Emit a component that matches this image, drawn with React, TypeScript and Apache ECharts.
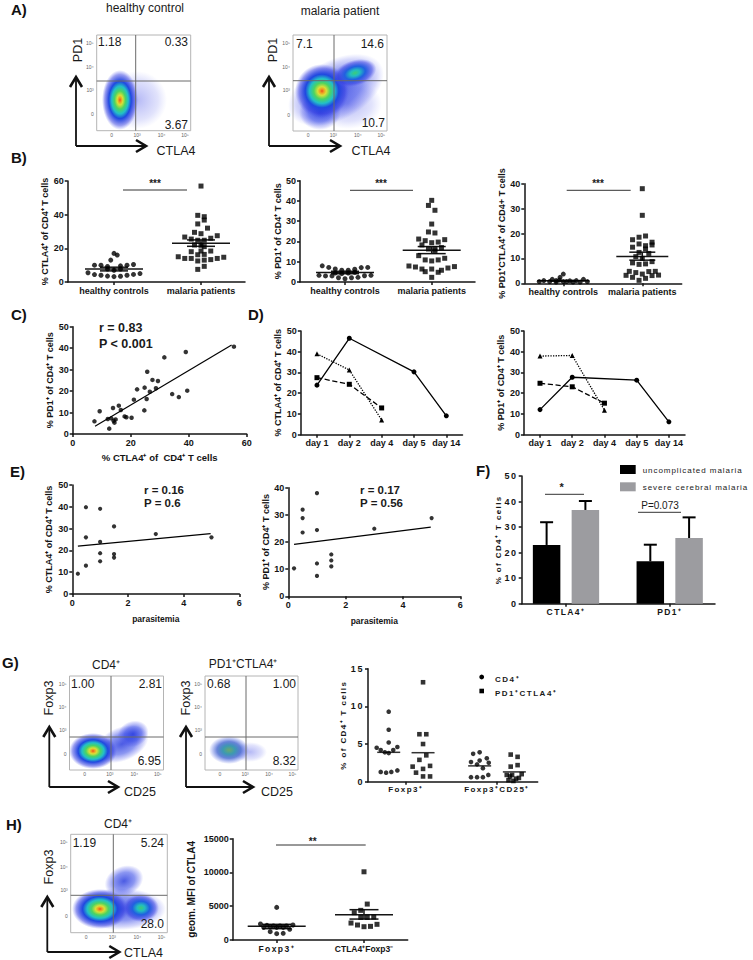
import React, { useEffect, useRef } from "react";
import * as echarts from "echarts";

const FONT = '"Liberation Sans", Arial, sans-serif';
const INK = "#141414";
const SLOT_PX = 6.5;

// ---------- data ----------
const groupLabels = ["healthy controls", "malaria patients"];

const b1HealthySlots = [0, 0.5, -0.5, -3, -2, -1, 1, 2, 3, -4, -3, -2, -1, 0, 1, 2, 3, 4, -1, 0, 1];
const b1HealthyVals = [17, 16, 13, 10, 10, 9.2, 9.6, 10, 10.4, 5.5, 4.4, 4, 3.5, 3.2, 3.4, 4, 4.5, 5, 7.7, 7, 7.7];
const b1MalariaSlots = [0, -0.5, 0.5, 0.5, -0.5, 1, -1, 0, -2.5, -1.5, -0.5, 0.5, 1.5, 2.5, -1, 0, 0.5, -1.5, 0, 1.5, -0.5, 0.5, -3.5, -2.5, -1.5, -0.5, 0.5, 1.5, 2.5, 3.5, 0.5, -0.5];
const b1MalariaVals = [57, 39.6, 38.8, 36.8, 34.5, 32, 29.5, 28.7, 26.7, 25.5, 24.8, 24.8, 26, 27.5, 22, 21.8, 21, 18, 18.4, 18.4, 16.2, 16.4, 15, 14, 14, 12.5, 13, 13.3, 14, 14.7, 9.3, 7.5];
const b1Summary = [[7.7, 6.6, 8.8], [23, 21.2, 25]];

const b2HealthySlots = [-3.5, -2.5, -1.5, -0.5, 0.5, 1.5, 2.5, 3.5, -4, -3, -2, -1, 0, 1, 2, 3, 4, -1.5, -0.5, 0.5, 1.5];
const b2HealthyVals = [8, 7.2, 6.4, 5.8, 5.8, 6.3, 7.1, 7.2, 3.3, 3, 3, 2.1, 1.6, 2.1, 2.3, 3.1, 3.3, 4.4, 4.1, 4.4, 4.8];
const b2MalariaSlots = [0, -0.5, 0.5, 0, -0.5, 0.5, -2, -1, 0, 1, 2, -1.5, -0.5, 0.5, 0.5, 1.5, -2, -1, 0, 1, 2, -3.5, -2.5, -1.5, -1, 0, 1, 1.5, 2.5, 3.5, 0];
const b2MalariaVals = [40.3, 37.8, 35.4, 28.6, 24.7, 24.2, 21.2, 20.4, 19.4, 19.7, 20.9, 18.3, 16.3, 16.3, 15.3, 17, 13, 10.9, 10.4, 10.9, 11.7, 7.9, 7.4, 6.4, 5.1, 6.4, 4.8, 5.8, 6.9, 7.6, 2.3];
const b2Summary = [[4.7, 4.1, 5.3], [15.7, 14, 17.5]];

const b3HealthySlots = [0, -3, -1.7, -0.6, 1, 2, 3.1, -3.7, -2.1, -1.1, 0, -0.5, 0.5, 1.5, 2.6, 3.7, -1.1];
const b3HealthyVals = [3.7, 1.1, 1.6, 1.3, 1, 1.1, 1.6, 0.7, 0.7, 0.5, 0.7, 2.4, 0.7, 0.5, 0.5, 0.7, 1.1];
const b3MalariaSlots = [0, 0, 0.5, -0.5, -1.5, 1.5, 1.5, -0.5, 0.5, -1.5, 0.5, -0.5, 1, -1, 0, -1.5, -0.5, 0.5, 1.5, -2, -1, 1, 2, -2.5, -1.5, 0, 0.5, 1.5, 2.5, -0.5];
const b3MalariaVals = [38, 27.3, 19, 18.5, 17.5, 16.5, 15.4, 15.8, 15.1, 14.5, 13.8, 12.4, 12, 10.7, 10, 8.2, 7.6, 7.8, 8.7, 4.8, 4.3, 4.7, 4.8, 3.2, 2.4, 3.7, 2, 3.1, 3.3, 1.2];
const b3Summary = [[1, 0.9, 1.1], [10.8, 9.3, 12.5]];

const cCtla4 = [55.6, 39, 31.6, 25.7, 27.5, 29.4, 22.2, 24.8, 26.6, 28.7, 34.3, 36.6, 39.5, 21.1, 25.5, 24.7, 9.3, 13.9, 15.9, 16.6, 17.9, 18.5, 20.3, 7.5, 12.1, 13.3, 14.8, 14.1, 14.4, 12.6];
const cPd1 = [40.7, 38.2, 35.7, 29, 25.2, 24.7, 20.8, 21.6, 19.7, 21.3, 18.6, 17.2, 20.2, 16, 16.3, 11, 10.6, 12.1, 13.2, 11.2, 8.2, 7.8, 7.6, 5.9, 7, 7.3, 6.8, 6.2, 5.3, 2.5];
const cFit = [[7.7, 3.6], [54.8, 41.5]];

const dayLabels = ["day 1", "day 2", "day 4", "day 5", "day 14"];
const d1Circle = [23.9, 46.5, null, 30.3, 9.1];
const d1Triangle = [39, 31.2, 7.1, null, null];
const d1Square = [27.5, 24.3, 12.9, null, null];
const d2Circle = [12.1, 27.7, null, 26.3, 6.2];
const d2Triangle = [37.9, 38.2, 11.8, null, null];
const d2Square = [24.8, 23.1, 15.2, null, null];

const e1Para = [0.49, 1, 1.5, 0.49, 3, 5, 1, 1, 1.5, 1.5, 1, 0.49, 0.2];
const e1Ctla4 = [39.8, 39.1, 31, 26, 27.5, 26, 23.9, 18.7, 18.3, 16.7, 15, 13, 9.3];
const e1Fit = [[0.2, 22], [4.97, 27.7]];
const e2Para = [1, 0.5, 0.5, 0.5, 1, 3, 5, 1.5, 1.5, 1.5, 1, 1, 0.2];
const e2Pd1 = [38, 31.9, 28.8, 23.5, 24.4, 24.9, 28.8, 15.4, 13.2, 11, 12.1, 7.5, 10.3];
const e2Fit = [[0.2, 19.1], [4.97, 25.5]];

const fLabels = ["CTLA4⁺", "PD1⁺"];
const fUncomplicated = [23, 16.6];
const fUncomplicatedErr = [31.9, 23.1];
const fSevere = [36.7, 25.7];
const fSevereErr = [40.2, 33.8];

const gLabels = ["Foxp3⁺", "Foxp3⁺CD25⁺"];
const gCd4aSlots = [0, 0, 0, 1.33, 0.7, 0, -0.6, -1.23, -1.85, 1.33, 0.4, -0.4, -1.23];
const gCd4aVals = [9.3, 6.9, 5.2, 4.6, 4.2, 3.8, 3.9, 4.2, 4.5, 1.5, 1.3, 1.2, 1.3];
const gDpaSlots = [0, -0.56, 0.5, 0, 0.5, -0.56, -1.6, 1.08, 0, -1.08, 0, 1.08];
const gDpaVals = [13.2, 6.3, 6.3, 5, 3.5, 2.9, 2, 2.1, 1.7, 1.2, 0.7, 0.7];
const gCd4bSlots = [0, -1, 1.1, 0, -1.33, -0.4, 1.4, 0.5, -1.33, -0.4, 0.5, 1.33];
const gCd4bVals = [3.9, 3.7, 3.1, 2.8, 2.6, 2.3, 2.5, 1.8, 0.6, 0.6, 0.6, 0.9];
const gDpbSlots = [-0.56, 0.5, -0.56, 0.5, -0.35, -1.17, 1.13, 0.7, -0.9, -0.15, 0.26, -0.67];
const gDpbVals = [3.6, 3.3, 2, 2.2, 0.9, 0.9, 1, 0.5, 0.2, 0.1, 0.4, 0.7];
const gMeans = [3.9, 3.85, 2.1, 1.3];

const hLabels = ["Foxp3⁺", "CTLA4⁺Foxp3⁻"];
const hFoxSlots = [0, -2.5, -1.5, -0.5, 0.5, 1.5, 2.5, -2, -1, 0, 1, 2, -1, 0, 1];
const hFoxVals = [4830, 2370, 2170, 2070, 2070, 2070, 2220, 1870, 1950, 1870, 1870, 1580, 1230, 940, 990];
const hCtlaSlots = [0, 0.5, -0.5, -1.5, -0.5, 0.5, 1.5, -2, -1, 0, 1, 2];
const hCtlaVals = [10100, 5320, 4390, 4040, 3350, 3350, 3400, 2510, 2220, 1970, 2020, 2320];
const hSummary = [[2020, 1680, 2320], [3750, 3100, 4490]];

const SPACED_AXIS = new Set<string>(["CTLA4⁺", "PD1⁺", "Foxp3⁺", "Foxp3⁺CD25⁺", "% of CD4⁺ T cells"]);
const SPACED_LEGEND = new Set<string>(["uncomplicated malaria", "severe cerebral malaria"]);

// ---------- builders ----------
const grids: any[] = [];
const xAxes: any[] = [];
const yAxes: any[] = [];
const series: any[] = [];
const gfx: any[] = [];

const axisLine = { show: true, onZero: false, lineStyle: { color: INK, width: 1.5 } };
const axisTick = { show: true, length: 3, lineStyle: { color: INK, width: 1.5 } };
const tickFont = { color: INK, fontFamily: FONT, fontWeight: "bold" as const, fontSize: 9 };

function panel(box: number[], x: any, y: any) {
  const [left, top, right, bottom] = box;
  const i = grids.length;
  grids.push({ left, top, width: right - left, height: bottom - top, containLabel: false });
  xAxes.push({
    gridIndex: i, type: "value", splitLine: { show: false }, axisLine, axisTick,
    ...x, axisLabel: { ...tickFont, margin: 4, ...(x.axisLabel || {}) },
  });
  yAxes.push({
    gridIndex: i, type: "value", splitLine: { show: false }, axisLine, axisTick,
    nameLocation: "middle", nameRotate: 90,
    nameTextStyle: { color: INK, fontFamily: FONT, fontWeight: "bold", fontSize: 9 },
    ...y, axisLabel: { ...tickFont, margin: 4, formatter: (v: number) => String(v), ...(y.axisLabel || {}) },
  });
  return i;
}

function groupX(labels: string[], min: number, max: number, fontSize = 9) {
  const ticks = labels.map((_, k) => k + 1);
  return {
    min, max,
    axisTick: { ...axisTick, customValues: ticks },
    axisLabel: { customValues: ticks, fontSize, formatter: (v: number) => labels[Math.round(v) - 1] },
  };
}

function dots(i: number, xs: number[], ys: number[], symbol: string, size: number) {
  series.push({
    type: "scatter", xAxisIndex: i, yAxisIndex: i, symbol, symbolSize: size, silent: true,
    itemStyle: { color: "#000" }, data: xs.map((x, k) => [x, ys[k]]),
  });
}
function swarm(i: number, center: number, unitPx: number, slots: number[], ys: number[], symbol: string, size = 5) {
  dots(i, slots.map((s) => center + (s * SLOT_PX) / unitPx), ys, symbol, size);
}
function fitLine(i: number, pts: number[][]) {
  series.push({
    type: "line", xAxisIndex: i, yAxisIndex: i, showSymbol: false, silent: true, data: pts,
    lineStyle: { color: "#000", width: 1.2 },
  });
}
// each row: x, main level, lower, upper, half width of the main line, half width of the caps
function whiskers(i: number, rows: number[][], color = INK, width = 1.5) {
  series.push({
    type: "custom", xAxisIndex: i, yAxisIndex: i, silent: true, clip: false, data: rows,
    encode: { x: 0, y: 1 },
    renderItem: (_: any, api: any) => {
      const [x, m, lo, hi, hw, cap] = [0, 1, 2, 3, 4, 5].map((d) => api.value(d));
      const P = (a: number, b: number) => api.coord([a, b]);
      const seg = (a: number[], b: number[]) => ({
        type: "line", shape: { x1: a[0], y1: a[1], x2: b[0], y2: b[1] },
        style: { stroke: color, lineWidth: width },
      });
      const children: any[] = [seg(P(x - hw, m), P(x + hw, m))];
      if (lo !== hi) children.push(seg(P(x, lo), P(x, hi)));
      if (cap > 0) {
        children.push(seg(P(x - cap, lo), P(x + cap, lo)));
        children.push(seg(P(x - cap, hi), P(x + cap, hi)));
      }
      return { type: "group", children };
    },
  });
}
function summary(i: number, unitPx: number, rows: number[][], capPx: number) {
  whiskers(i, rows.map((r, k) => [k + 1, r[0], r[1], r[2], 29 / unitPx, capPx / unitPx]));
}

function T(text: string, x: number, y: number, o: any = {}) {
  gfx.push({
    type: "text", x, y, rotation: o.rot || 0, silent: true,
    style: {
      text, fill: o.color || "#1a1a1a", fontFamily: FONT, fontSize: o.size || 12,
      fontWeight: o.bold ? "bold" : "normal", align: o.align || "center", verticalAlign: "middle",
    },
  });
}
function L(x1: number, y1: number, x2: number, y2: number, color = "#333", w = 1) {
  gfx.push({ type: "line", silent: true, shape: { x1, y1, x2, y2 }, style: { stroke: color, lineWidth: w } });
}
function arrows(x: number, y: number, top: number, tip: number) {
  L(x, y, x, top + 1, "#111", 1.8);
  L(x, y, tip - 1, y, "#111", 1.8);
  gfx.push({ type: "polyline", silent: true, shape: { points: [[x - 6, top + 10], [x, top], [x + 6, top + 10]] }, style: { stroke: "#111", lineWidth: 2.6, fill: "none" } });
  gfx.push({ type: "polyline", silent: true, shape: { points: [[tip - 10, y - 6], [tip, y], [tip - 10, y + 6]] }, style: { stroke: "#111", lineWidth: 2.6, fill: "none" } });
}

const HOT = [[0, "#e8501c"], [0.07, "#f09a20"], [0.16, "#d8e038"], [0.3, "#4cd460"], [0.46, "#22c0c8"], [0.62, "#2048e0"], [0.85, "rgba(50,60,225,.5)"], [1, "rgba(80,90,240,0)"]];
const WARM = [[0, "#3ccc78"], [0.22, "#22bcc0"], [0.48, "#2060e0"], [0.8, "rgba(50,60,225,.5)"], [1, "rgba(80,90,240,0)"]];
const COLD = [[0, "rgba(30,50,220,.8)"], [0.55, "rgba(45,65,230,.55)"], [0.85, "rgba(70,80,235,.22)"], [1, "rgba(90,100,245,0)"]];
const FAINT = [[0, "rgba(60,70,230,.38)"], [0.7, "rgba(70,80,235,.16)"], [1, "rgba(90,100,245,0)"]];
const PALE = [[0, "#6aa870"], [0.3, "#3c9ab0"], [0.6, "rgba(40,80,200,.7)"], [1, "rgba(60,80,230,0)"]];

function blob(cx: number, cy: number, rx: number, ry: number, rot: number, stops: any[]) {
  gfx.push({
    type: "ellipse", silent: true, x: cx, y: cy, rotation: rot, shape: { cx: 0, cy: 0, rx, ry },
    style: {
      fill: { type: "radial", x: 0.5, y: 0.5, r: 0.5, colorStops: stops.map((s) => ({ offset: s[0], color: s[1] })) },
    },
  });
}
function flowFrame(x0: number, y0: number, x1: number, y1: number, qx: number, qy: number, big = 5) {
  gfx.push({ type: "rect", silent: true, shape: { x: x0, y: y0, width: x1 - x0, height: y1 - y0 }, style: { fill: "none", stroke: "#b4b4b4", lineWidth: 1 } });
  L(qx, y0, qx, y1, "#6a6a6a", 1);
  L(x0, qy, x1, qy, "#6a6a6a", 1);
  const w = x1 - x0;
  const h = y1 - y0;
  ["10⁵", "10⁴", "10³", "0"].forEach((t, k) => T(t, x0 - 3, y0 + h * [0.08, 0.33, 0.57, 0.83][k], { size: big, align: "right", color: "#666" }));
  ["0", "10³", "10⁴", "10⁵"].forEach((t, k) => T(t, x0 + w * [0.16, 0.43, 0.69, 0.94][k], y1 + 4, { size: big, color: "#666" }));
}

// ---------- panel B ----------
const groupMinMax = (axisPx: number, c1: number, endPx: number, unit: number) =>
  [1 - (c1 - axisPx) / unit, 1 + (endPx - c1) / unit] as const;

const [b1a, b1b] = groupMinMax(67.7, 114, 245, 87);
const b1 = panel([67.7, 181, 245, 282], groupX(groupLabels, b1a, b1b),
  { min: 0, max: 60, interval: 20, name: "% CTLA4⁺ of CD4⁺ T cells", nameGap: 14 });
swarm(b1, 1, 87, b1HealthySlots, b1HealthyVals, "circle");
swarm(b1, 2, 87, b1MalariaSlots, b1MalariaVals, "rect");
summary(b1, 87, b1Summary, 14);

const [b2a, b2b] = groupMinMax(300, 345, 475, 86.7);
const b2 = panel([300, 180.7, 475, 282], groupX(groupLabels, b2a, b2b),
  { min: 0, max: 50, interval: 10, name: "% PD1⁺ of CD4⁺ T cells", nameGap: 14 });
swarm(b2, 1, 86.7, b2HealthySlots, b2HealthyVals, "circle");
swarm(b2, 2, 86.7, b2MalariaSlots, b2MalariaVals, "rect");
summary(b2, 86.7, b2Summary, 14);

const [b3a, b3b] = groupMinMax(524.3, 563.3, 681.7, 79);
const b3 = panel([524.3, 183.7, 681.7, 283.3], groupX(groupLabels, b3a, b3b),
  { min: 0, max: 40, interval: 10, name: "% PD1⁺CTLA4⁺ of CD4+ T cells", nameGap: 16 });
swarm(b3, 1, 79, b3HealthySlots, b3HealthyVals, "circle");
swarm(b3, 2, 79, b3MalariaSlots, b3MalariaVals, "rect");
whiskers(b3, b3Summary.map((r, k) => [k + 1, r[0], r[1], r[2], 26 / 79, 13 / 79]));

// ---------- panel C ----------
const c = panel([72.7, 326.7, 246.7, 434],
  { min: 0, max: 60, interval: 20, name: "% CTLA4⁺ of  CD4⁺ T cells", nameLocation: "middle", nameGap: 18,
    nameTextStyle: { color: INK, fontFamily: FONT, fontWeight: "bold", fontSize: 9.5 } },
  { min: 0, max: 50, interval: 10, name: "% PD1⁺ of CD4⁺ T cells", nameGap: 18 });
dots(c, cCtla4, cPd1, "circle", 4.5);
fitLine(c, cFit);

// ---------- panel D ----------
function dayPanel(box: number[], yName: string, a: any[], b: any[], d: any[]) {
  const i = grids.length;
  grids.push({ left: box[0], top: box[1], width: box[2] - box[0], height: box[3] - box[1] });
  xAxes.push({
    gridIndex: i, type: "category", data: dayLabels, axisLine, axisTick: { ...axisTick, alignWithLabel: true },
    axisLabel: { ...tickFont, margin: 4, interval: 0 },
  });
  yAxes.push({
    gridIndex: i, type: "value", min: 0, max: 50, interval: 10, splitLine: { show: false }, axisLine, axisTick,
    axisLabel: { ...tickFont, margin: 4 }, name: yName, nameLocation: "middle", nameRotate: 90, nameGap: 14,
    nameTextStyle: { color: INK, fontFamily: FONT, fontWeight: "bold", fontSize: 9 },
  });
  const trace = (data: any[], symbol: string, type: string) => series.push({
    type: "line", xAxisIndex: i, yAxisIndex: i, data, symbol, symbolSize: symbol === "triangle" ? 5 : 5, connectNulls: true, silent: true,
    itemStyle: { color: "#000" }, lineStyle: { color: "#000", width: 1.3, type },
  });
  trace(a, "circle", "solid");
  trace(b, "triangle", "dotted");
  trace(d, "rect", "dashed");
}
dayPanel([300.8, 331, 462.5, 434.7], "% CTLA4⁺ of CD4⁺ T cells", d1Circle, d1Triangle, d1Square);
dayPanel([523.9, 331, 685, 434.7], "% PD1⁺ of CD4⁺ T cells", d2Circle, d2Triangle, d2Square);

// ---------- panel E ----------
const e1 = panel([72.3, 485, 239.3, 594],
  { min: 0, max: 6, interval: 2, name: "parasitemia", nameLocation: "middle", nameGap: 20,
    nameTextStyle: { color: INK, fontFamily: FONT, fontWeight: "bold", fontSize: 8.5 } },
  { min: 0, max: 50, interval: 10, name: "% CTLA4⁺ of CD4⁺ T cells", nameGap: 19 });
dots(e1, e1Para, e1Ctla4, "circle", 4.2);
fitLine(e1, e1Fit);

const e2 = panel([288.3, 487.7, 460.3, 596.3],
  { min: 0, max: 6, interval: 2, name: "parasitemia", nameLocation: "middle", nameGap: 20,
    nameTextStyle: { color: INK, fontFamily: FONT, fontWeight: "bold", fontSize: 8.5 } },
  { min: 0, max: 40, interval: 10, name: "% PD1⁺ of CD4⁺ T cells", nameGap: 18 });
dots(e2, e2Para, e2Pd1, "circle", 4.2);
fitLine(e2, e2Fit);

// ---------- panel F ----------
const fUnit = 103.7;
const [fa, fb] = groupMinMax(521.7, 566, 715, fUnit);
const f = panel([521.7, 476, 715, 603.7], groupX(fLabels, fa, fb, 8.5),
  { min: 0, max: 50, interval: 10, name: "% of CD4⁺ T cells", nameGap: 19,
    nameTextStyle: { color: INK, fontFamily: FONT, fontWeight: "bold", fontSize: 8 } });
const fOffset = 0.187;
const fCap = 6.5 / fUnit;
series.push({
  type: "bar", xAxisIndex: f, yAxisIndex: f, barWidth: 27.5, barGap: "-100%", silent: true,
  itemStyle: { color: "#000" }, data: fUncomplicated.map((v, k) => [k + 1 - fOffset, v]),
});
series.push({
  type: "bar", xAxisIndex: f, yAxisIndex: f, barWidth: 27.5, barGap: "-100%", silent: true,
  itemStyle: { color: "#9c9ca0" }, data: fSevere.map((v, k) => [k + 1 + fOffset, v]),
});
whiskers(f, fUncomplicated.map((v, k) => [k + 1 - fOffset, fUncomplicatedErr[k], v, fUncomplicatedErr[k], fCap, 0]), "#000", 2);
whiskers(f, fSevere.map((v, k) => [k + 1 + fOffset, fSevereErr[k], v, fSevereErr[k], fCap, 0]), "#000", 2);

// ---------- panel G ----------
const gUnit = 91.3;
const [ga, gb] = groupMinMax(368, 405.7, 537.7, gUnit);
const g = panel([368, 668.7, 537.7, 781.7], groupX(gLabels, ga, gb, 8),
  { min: 0, max: 15, interval: 5, name: "% of CD4⁺ T cells", nameGap: 21,
    nameTextStyle: { color: INK, fontFamily: FONT, fontWeight: "bold", fontSize: 8 } });
const gCenters = [0.814, 1.19, 1.81, 2.19];
swarm(g, gCenters[0], gUnit, gCd4aSlots, gCd4aVals, "circle", 4.6);
swarm(g, gCenters[1], gUnit, gDpaSlots, gDpaVals, "rect", 4.6);
swarm(g, gCenters[2], gUnit, gCd4bSlots, gCd4bVals, "circle", 4.6);
swarm(g, gCenters[3], gUnit, gDpbSlots, gDpbVals, "rect", 4.6);
whiskers(g, gMeans.map((m, k) => [gCenters[k], m, m, m, 11.5 / gUnit, 0]), "#333", 1.5);

// ---------- panel H ----------
const hUnit = 87.3;
const [ha, hb] = groupMinMax(232.7, 276.7, 407.7, hUnit);
const h = panel([232.7, 838.7, 407.7, 940], groupX(hLabels, ha, hb, 8.5),
  { min: 0, max: 15000, interval: 5000, name: "geom. MFI of CTLA4", nameGap: 36,
    nameTextStyle: { color: INK, fontFamily: FONT, fontWeight: "bold", fontSize: 10 } });
swarm(h, 1, hUnit, hFoxSlots, hFoxVals, "circle");
swarm(h, 2, hUnit, hCtlaSlots, hCtlaVals, "rect");
summary(h, hUnit, hSummary, 14.5);

// ---------- panel letters and annotations ----------
[["A)", 11, 9], ["B)", 11, 157], ["C)", 11, 314], ["D)", 248, 314], ["E)", 10, 471], ["F)", 476, 470], ["G)", 2, 662], ["H)", 6, 824]].forEach((a: any) =>
  T(a[0], a[1], a[2], { size: 15, bold: true, align: "left", color: "#111" }));

T("***", 155, 183, { size: 10, bold: true });
L(123, 190, 187, 190);
T("***", 381, 183, { size: 10, bold: true });
L(350, 190.3, 413, 190.3);
T("***", 598, 183, { size: 10, bold: true });
L(566.7, 190.3, 630.7, 190.3);

T("r = 0.83", 99, 327.7, { size: 12.5, bold: true, align: "left" });
T("P < 0.001", 99, 343.7, { size: 12.5, bold: true, align: "left" });
T("r = 0.16", 144, 489.7, { size: 11.5, bold: true, align: "left" });
T("P = 0.6", 144, 503.3, { size: 11.5, bold: true, align: "left" });
T("r = 0.17", 360, 489.7, { size: 11.5, bold: true, align: "left" });
T("P = 0.56", 360, 503.3, { size: 11.5, bold: true, align: "left" });

gfx.push({ type: "rect", silent: true, shape: { x: 620, y: 465, width: 15.7, height: 9 }, style: { fill: "#000" } });
gfx.push({ type: "rect", silent: true, shape: { x: 620, y: 482.3, width: 15.7, height: 9 }, style: { fill: "#9c9ca0" } });
T("uncomplicated malaria", 642.7, 470, { size: 8, align: "left" });
T("severe cerebral malaria", 642.7, 487.3, { size: 8, align: "left" });
T("*", 561.7, 487, { size: 11, bold: true });
L(545, 494.3, 584, 494.3);
T("P=0.073", 660, 505.3, { size: 10 });
L(638, 512.3, 681, 512.3);

// panel G legend
gfx.push({ type: "circle", silent: true, shape: { cx: 481.7, cy: 677, r: 2.4 }, style: { fill: "#000" } });
gfx.push({ type: "rect", silent: true, shape: { x: 479.4, y: 688.7, width: 4.6, height: 4.6 }, style: { fill: "#000" } });
T("CD4⁺", 495, 679, { size: 8, bold: true, align: "left", spaced: true });
T("PD1⁺CTLA4⁺", 495, 693, { size: 8, bold: true, align: "left" });

T("**", 312.7, 841, { size: 10, bold: true });
L(276, 845, 365.7, 845);

// ---------- flow cytometry panels ----------
T("healthy control", 145, 8, { size: 12 });
T("malaria patient", 340, 11, { size: 12 });

blob(137, 100, 30, 29, 0, FAINT);
blob(120, 100, 18, 30, 0, HOT);
flowFrame(96.7, 35, 190.7, 130.7, 135.7, 81);
T("PD1", 78, 50, { size: 12.5, rot: Math.PI / 2 });
T("1.18", 98, 42, { align: "left" });
T("0.33", 188, 42, { align: "right" });
T("3.67", 188, 125, { align: "right" });
T("CTLA4", 176, 151, { size: 12.5 });
arrows(76, 146, 77, 146);

blob(336, 90, 52, 30, 0.5, COLD);
blob(348, 104, 34, 25, 0, FAINT);
blob(320, 112, 21, 18, 0, COLD);
blob(322, 91, 27, 27, 0, HOT);
blob(355, 73, 22, 13, 0.3, WARM);
flowFrame(293, 35, 387, 131, 334, 80.7);
T("PD1", 272.5, 50, { size: 12.5, rot: Math.PI / 2 });
T("7.1", 296, 44, { align: "left" });
T("14.6", 384, 44, { align: "right" });
T("10.7", 385, 123, { align: "right" });
T("CTLA4", 371, 151, { size: 12.5 });
arrows(269, 146, 77, 340);

blob(122, 744, 28, 17, 0.4, COLD);
blob(133, 734, 16, 13, 0.4, COLD);
blob(93, 751, 24, 18, 0, HOT);
flowFrame(69.5, 676, 163.5, 770, 111, 737);
T("CD4⁺", 106, 665, { size: 12 });
T("Foxp3", 48.7, 698, { size: 12.5, rot: Math.PI / 2 });
T("1.00", 71, 684, { align: "left" });
T("2.81", 162, 684, { align: "right" });
T("6.95", 161, 760.7, { align: "right" });
T("CD25", 140, 792, { size: 12.5 });
arrows(49.3, 787, 727, 118);

blob(250, 752, 17, 10, 0, FAINT);
blob(229, 750, 20, 14, 0, PALE);
flowFrame(205, 676, 298, 770, 246, 737);
T("PD1⁺CTLA4⁺", 243, 664, { size: 12 });
T("Foxp3", 186, 698, { size: 12.5, rot: Math.PI / 2 });
T("0.68", 207, 684, { align: "left" });
T("1.00", 296, 684, { align: "right" });
T("8.32", 296, 760.7, { align: "right" });
T("CD25", 277, 792, { size: 12.5 });
arrows(186, 787, 727, 253);

blob(120, 909, 46, 21, 0, COLD);
blob(124, 881, 20, 15, 0.4, COLD);
blob(141, 908, 18, 14, 0, WARM);
blob(100, 909, 28, 20, 0, HOT);
flowFrame(70.7, 834.3, 167.3, 932.7, 113.3, 895.3);
T("CD4⁺", 118, 824, { size: 12 });
T("Foxp3", 49.3, 867, { size: 12.5, rot: Math.PI / 2 });
T("1.19", 72.7, 843.3, { align: "left" });
T("5.24", 164, 843.3, { align: "right" });
T("28.0", 164, 923.7, { align: "right" });
T("CTLA4", 143.5, 952.7, { size: 12.5 });
arrows(47.3, 952, 897, 119.3);

function spaceOut(root: HTMLElement) {
  root.querySelectorAll("text").forEach((el) => {
    const t = el.textContent || "";
    const r = el.getBoundingClientRect();
    const cx = r.left + r.width / 2;
    const cy = r.top + r.height / 2;
    const tickF = /^\d+$/.test(t) && cx > 500 && cx < 521 && cy > 470 && cy < 610;
    const tickG = /^\d+$/.test(t) && cx > 345 && cx < 368 && cy > 660 && cy < 790;
    const legendG = (t === "CD4⁺" || t === "PD1⁺CTLA4⁺") && cx > 480 && cy > 670 && cy < 700;
    if (tickF || tickG) el.setAttribute("letter-spacing", "1.6");
    else if (legendG) el.setAttribute("letter-spacing", "1.5");
    else if (SPACED_AXIS.has(t)) el.setAttribute("letter-spacing", "1.4");
    else if (SPACED_LEGEND.has(t)) el.setAttribute("letter-spacing", "0.95");
  });
}

export default function App() {
  const ref = useRef<HTMLDivElement>(null);
  useEffect(() => {
    document.body.style.margin = "0";
    const chart = echarts.init(ref.current!, undefined, { renderer: "svg" });
    chart.setOption({
      animation: false,
      backgroundColor: "#fff",
      grid: grids,
      xAxis: xAxes,
      yAxis: yAxes,
      series,
      graphic: { elements: gfx },
    });
    spaceOut(ref.current!);
    return () => chart.dispose();
  }, []);
  return <div ref={ref} style={{ width: 753, height: 960 }} />;
}
